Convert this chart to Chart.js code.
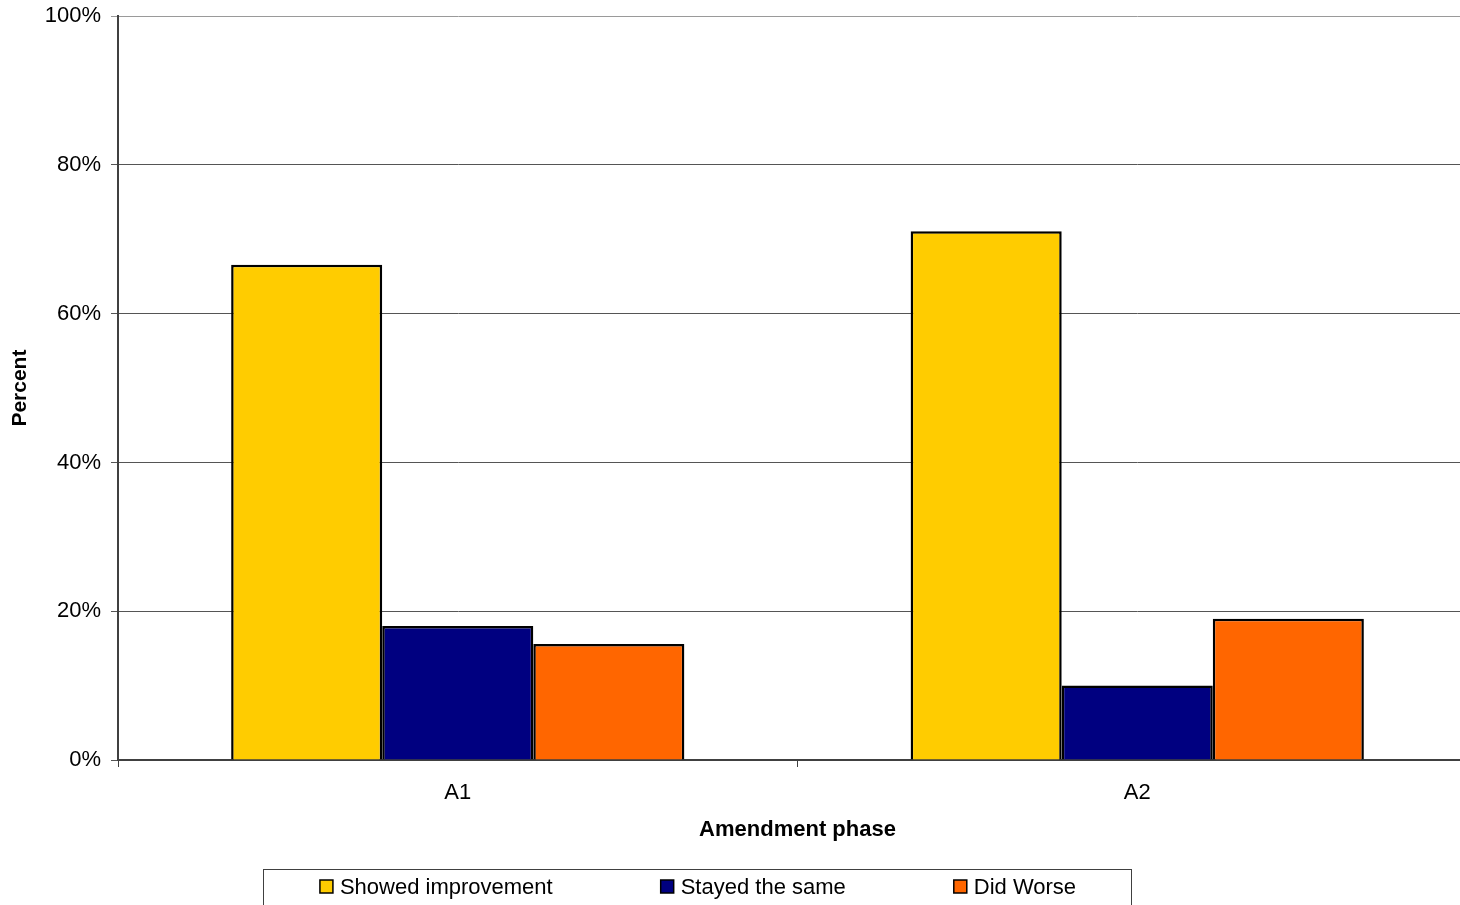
<!DOCTYPE html>
<html lang="en">
  <head>
    <meta charset="UTF-8" />
    <title>Amendment phase</title>
    <script src="https://cdn.jsdelivr.net/npm/chart.js@4.4.0/dist/chart.umd.min.js"></script>
    <style>
      html, body { margin: 0; padding: 0; background: #fff; overflow: hidden; }
      #wrap { position: relative; width: 1460px; height: 905px; overflow: hidden; }
      /* plot area runs past the right edge in the original, so the canvas is a bit larger */
      #myChart { position: absolute; left: 0; top: -7px; }
    </style>
  </head>
  <body>
    <div id="wrap">
      <canvas id="myChart" width="1477" height="912"></canvas>
    </div>
    <script>
      // data
      const phases = ['A1', 'A2'];
      const improved = [66.6, 71.1];
      const same = [18.0, 10.0];
      const worse = [15.6, 19.0];
      const yTicks = [0, 20, 40, 60, 80, 100];

      const FONT = "'Liberation Sans', Arial, sans-serif";
      const SHIFT = 7; // canvas top offset

      // legend box drawn by hand so it can sit in the framed strip at the bottom
      const boxLegend = {
        id: 'boxLegend',
        afterDraw(chart) {
          const ctx = chart.ctx;
          ctx.save();
          ctx.strokeStyle = '#404040';
          ctx.lineWidth = 1;
          ctx.strokeRect(263.5, 869.5 + SHIFT, 868, 60);
          ctx.font = '22px ' + FONT;
          ctx.textBaseline = 'middle';
          const sets = chart.data.datasets;
          const gap = 108;
          const widths = sets.map(d => 13 + 7 + ctx.measureText(d.label).width);
          const total = widths.reduce((a, b) => a + b, 0) + gap * (sets.length - 1);
          let x = 698 - total / 2;
          const y = 887 + SHIFT;
          sets.forEach((d, i) => {
            ctx.fillStyle = d.backgroundColor;
            ctx.fillRect(x, y - 7, 13, 13);
            ctx.strokeStyle = '#000';
            ctx.lineWidth = 1.5;
            ctx.strokeRect(x, y - 7, 13, 13);
            ctx.fillStyle = '#000';
            ctx.fillText(d.label, x + 20, y + 1);
            x += widths[i] + gap;
          });
          ctx.restore();
        }
      };

      const ctx = document.getElementById('myChart').getContext('2d');
      const myChart = new Chart(ctx, {
        type: 'bar',
        data: {
          labels: phases,
          datasets: [
            { label: 'Showed improvement', data: improved, backgroundColor: '#FFCC00' },
            { label: 'Stayed the same', data: same, backgroundColor: '#000080' },
            { label: 'Did Worse', data: worse, backgroundColor: '#FF6600' }
          ]
        },
        options: {
          responsive: false,
          animation: false,
          layout: { padding: { top: 10, right: 0, bottom: 0, left: 0 } },
          datasets: {
            bar: {
              borderColor: '#000',
              borderWidth: 2.5,
              barPercentage: 1.0,
              categoryPercentage: 0.667
            }
          },
          plugins: {
            legend: { display: false },
            tooltip: { enabled: false }
          },
          scales: {
            x: {
              offset: true,
              afterFit(scale) { scale.height = 145; },
              grid: {
                offset: true,
                drawOnChartArea: false,
                drawTicks: true,
                tickLength: 7,
                color: '#404040'
              },
              border: { display: true, color: '#404040', width: 2 },
              ticks: {
                color: '#000',
                padding: 13,
                font: { family: FONT, size: 22 }
              },
              title: {
                display: true,
                text: 'Amendment phase',
                color: '#000',
                padding: { top: 0, bottom: 62 },
                font: { family: FONT, size: 22, weight: 'bold' }
              }
            },
            y: {
              min: 0,
              max: 100,
              afterFit(scale) { scale.width = 118; },
              afterBuildTicks(scale) {
                scale.ticks = yTicks.map(v => ({ value: v }));
              },
              grid: {
                color: (c) => c.tick && c.tick.value === 100 ? '#9a9a9a' : '#555',
                lineWidth: 1,
                drawTicks: true,
                tickLength: 7
              },
              border: { display: true, color: '#404040', width: 2 },
              ticks: {
                color: '#000',
                padding: 10,
                font: { family: FONT, size: 22 },
                callback: (v) => v + '%'
              },
              title: {
                display: true,
                text: 'Percent',
                color: '#000',
                padding: { top: 8, bottom: 0 },
                font: { family: FONT, size: 21, weight: 'bold' }
              }
            }
          }
        },
        plugins: [boxLegend]
      });
    </script>
  </body>
</html>
